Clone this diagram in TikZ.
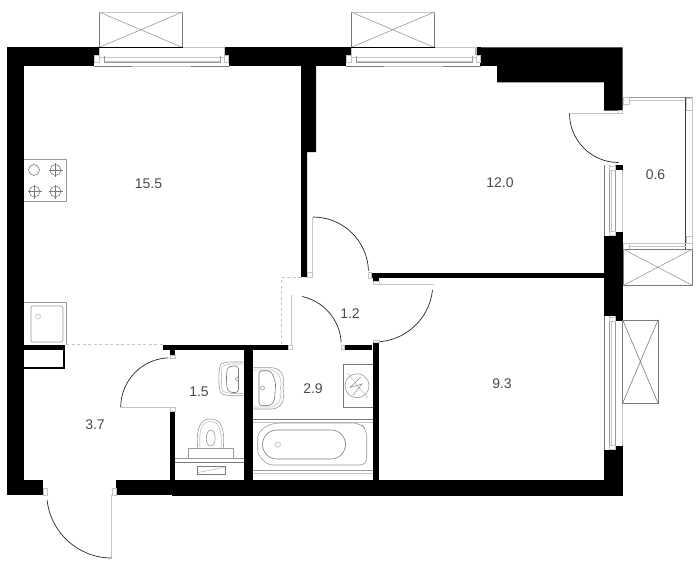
\documentclass[tikz,border=0pt]{standalone}
\usepackage{fontspec}
\setmainfont{Liberation Sans}
\definecolor{labelc}{HTML}{4A4A4A}
\definecolor{fine}{HTML}{9A9A9A}
\definecolor{pale}{HTML}{C4C4C4}
\definecolor{mid}{HTML}{7A7A7A}
\tikzset{
  wall/.style={fill=black,draw=none},
  thin line/.style={draw=fine,line width=0.6pt},
  pale line/.style={draw=pale,line width=0.7pt},
  dark line/.style={draw=mid,line width=0.6pt},
  swing/.style={draw=black!85,line width=0.7pt},
  leaf/.style={draw=pale,line width=1pt},
  split/.style={draw=pale,line width=0.7pt,dash pattern=on 3pt off 2.5pt},
  room/.style={font=\fontsize{14}{14}\selectfont,text=labelc,inner sep=0pt},
  jamb/.style={draw=pale,fill=white,line width=0.7pt},
  acbox/.style={draw=mid,line width=0.7pt},
  acx/.style={draw=fine,line width=0.6pt},
}
\begin{document}
\begin{tikzpicture}[x=1pt,y=-1pt]
\useasboundingbox (0,0) rectangle (700,567);
% ---- masonry
\fill[wall] (7,47.5) rectangle (94,66);
\fill[wall] (7,47.5) rectangle (23.7,495);
\fill[wall] (7,479.5) rectangle (43,495);
\fill[wall] (116,479.5) rectangle (172,495);
\fill[wall] (171.5,480) rectangle (622.7,496);
\fill[wall] (229,47.5) rectangle (346,66);
\fill[wall] (475.7,47.5) -- (622.7,47.5) -- (622.7,110.5) -- (604,110.5) -- (604,82.5) -- (497,82.5) -- (497,66) -- (480,66) -- (480,55) -- (475.7,55) -- cycle;
\fill[wall] (604,236) rectangle (622.7,316);
\fill[wall] (604,450) rectangle (622.7,496);
\fill[wall] (301,66) -- (316,66) -- (316,152) -- (307,152) -- (307,277) -- (301,277) -- cycle;
\fill[wall] (371.5,272.5) rectangle (604,278.3);
\fill[wall] (373,278) rectangle (379,281);
\fill[wall] (163,345) rectangle (288.5,349.5);
\fill[wall] (170,349) rectangle (175,355);
\fill[wall] (170,411) rectangle (175,480);
\fill[wall] (244.3,349) rectangle (253,480);
\fill[wall] (343,345) rectangle (372,349.5);
\fill[wall] (372.5,342.5) rectangle (378.7,480);
\fill[wall] (23.7,344.5) rectangle (65,349.5);
\fill[wall] (23.7,366.5) rectangle (65,369);
\fill[wall] (63,349) rectangle (65,369);
% ---- top windows
\foreach \ox in {0,252}{
  \begin{scope}[xshift=\ox pt]
    \fill[wall] (94,47.5) rectangle (99,55);
    \fill[wall] (224,47.5) rectangle (229,55);
    \draw[pale line] (94,66) -- (229,66);
    \draw[dark line] (94,66) -- (132,66);
    \draw[dark line] (191,66) -- (229,66);
    \draw[pale line] (99,47.5) -- (224,47.5) -- (224,56);
    \draw[pale line] (99,47.5) -- (99,56);
    \draw[pale line] (99,57) -- (224,57);
    \draw[pale line] (104,61) -- (220,61);
    \draw[thin line] (104,56.5) -- (104,62) -- (220,62) -- (220,56.5);
    \draw[jamb] (94.5,55.5) rectangle (99,62);
    \draw[jamb] (224,55.5) rectangle (228.5,62);
    \draw[acbox] (99,47.5) -- (99,12);
    \draw[acbox] (182.5,47.5) -- (182.5,12);
    \draw[pale line] (99,12) -- (182.5,12);
    \draw[acx] (99,12) -- (182.5,47.5) (182.5,12) -- (99,47.5);
    \draw[draw=black,line width=0.9pt] (99,47.5) -- (182.5,47.5);
  \end{scope}
}
% ---- right windows
\foreach \ya/\yb in {165/236,316/450}{
  \draw[mid,line width=0.7pt] (604.4,\ya) -- (604.4,\yb);
  \draw[pale line] (622.5,\ya) -- (622.5,\yb);
  \draw[thin line] (609,\ya) -- (609,\yb);
  \draw[pale line] (611,\ya+5) -- (611,\yb-5);
  \draw[thin line] (615.5,\ya) -- (615.5,\yb);
  \fill[wall] (616,\ya) rectangle (622.7,\ya+4.5);
  \fill[wall] (616,\yb-4.5) rectangle (622.7,\yb);
  \draw[jamb] (609,\ya+1) rectangle (615.5,\ya+5);
  \draw[jamb] (609,\yb-5) rectangle (615.5,\yb-1);
}
% ---- balcony
\draw[thin line] (623,97) -- (692.7,97);
\draw[pale line] (623,100.5) -- (686,100.5);
\draw[jamb] (623,97) rectangle (629,104);
\draw[draw=black!75,line width=0.7pt] (685.5,97) -- (685.5,249);
\draw[pale line] (692.3,97) -- (692.3,249);
\draw[jamb] (686,98) rectangle (692.3,110);
\draw[jamb] (686,236) rectangle (692.3,243);
\draw[pale line] (623,243) -- (692.7,243);
\draw[pale line] (629,246) -- (686,246);
\draw[jamb] (623,243) rectangle (629,249);
\draw[dark line] (623,249) -- (692.7,249);
\draw[acbox] (623,249) -- (623,285.5) -- (692.7,285.5) -- (692.7,249);
\draw[acx] (623,249) -- (692.7,285.5) (692.7,249) -- (623,285.5);
% ---- right AC unit
\draw[acbox] (622.7,320) rectangle (658,403);
\draw[dark line] (622.7,320) -- (658,403) (658,320) -- (622.7,403);
% ---- split lines of the kitchen
\draw[split] (66,344) -- (163,344);
\draw[split] (301,277.5) -- (281.5,277.5) -- (281.5,344);
% ---- doors
\draw[leaf] (111.7,495) -- (111.7,558);
\draw[swing] (111.7,558) arc[start angle=90,end angle=174,radius=65];
\draw[jamb] (43,488) rectangle (47,495);
\draw[jamb] (112,488) rectangle (116,495);
\draw[leaf] (170,407.3) -- (120.7,407.3);
\draw[swing] (120.7,407.3) arc[start angle=180,end angle=268,radius=49.5];
\draw[jamb] (170,355) rectangle (175,358);
\draw[jamb] (170,407) rectangle (175,411);
\draw[leaf] (312.7,272) -- (312.7,217);
\draw[swing] (313,217) arc[start angle=-90,end angle=-2,radius=55.5];
\draw[jamb] (307.5,272) rectangle (312.5,277);
\draw[jamb] (368,272) rectangle (371.5,278);
\draw[leaf] (291.7,345) -- (291.7,295);
\draw[swing] (302,296.5) arc[start angle=-78,end angle=-3,radius=49.5];
\draw[jamb] (288.5,345) rectangle (292,349.5);
\draw[jamb] (341,345) rectangle (344,349.5);
\draw[leaf] (374,284.3) -- (434,284.3);
\draw[swing] (432.5,290) arc[start angle=6,end angle=88,radius=58];
\draw[jamb] (373,281) rectangle (379,284.3);
\draw[jamb] (373,340) rectangle (379,342.7);
\draw[leaf] (622,113.5) -- (569.5,113.5);
\draw[swing] (569.5,113.5) arc[start angle=180,end angle=90,radius=49];
\draw[jamb] (618,110.5) rectangle (622.7,113.5);
% ---- kitchen
\draw[thin line] (23.7,159) -- (66,159) -- (66,201) -- (23.7,201);
\draw[dark line] (34,170) circle[radius=5.5];
\foreach \cx/\cy in {55.5/170,34.5/191.5,55.5/191.5}{
  \draw[dark line] (\cx,\cy) circle[radius=5.5];
  \draw[dark line] (\cx-7,\cy) -- (\cx+7,\cy) (\cx,\cy-7) -- (\cx,\cy+7);
}
\draw[thin line] (23.7,302) -- (66,302) -- (66,344);
\draw[thin line,rounded corners=2pt] (31,306) rectangle (63,342);
\draw[pale line] (38,316.5) circle[radius=2.5];
% ---- WC
\draw[thin line,rounded corners=5pt] (243.3,362) -- (226,362) .. controls (218,365) and (218,392) .. (226,395.7) -- (243.3,395.7);
\draw[pale line,rounded corners=5pt] (243.3,364) -- (227,364) .. controls (221,367) and (221,390) .. (227,393.5) -- (243.3,393.5);
\draw[dark line,rounded corners=3pt] (238.5,366) -- (230,366) .. controls (226,370) and (226,388) .. (230,392.5) -- (238.5,392.5) -- cycle;
\draw[fine,line width=0.6pt] (237,379) circle[radius=1.7];
\draw[thin line] (197.7,448) .. controls (196,428) and (200,419) .. (210.5,419) .. controls (221,419) and (225,428) .. (223.3,448);
\draw[pale line] (200,448) .. controls (198.5,430) and (202,421.5) .. (210.5,421.5) .. controls (219,421.5) and (222.5,430) .. (221,448);
\draw[thin line] (210.7,438) ellipse[x radius=4.5,y radius=8];
\draw[thin line] (188.5,458) -- (188.5,448) -- (233.5,448) -- (233.5,458);
\draw[thin line] (175,458) -- (244,458);
\draw[dark line] (175,462) -- (244,462);
\draw[dark line] (197,466.5) rectangle (225,474);
\draw[pale line] (198,472.5) -- (224,467.5);
% ---- bathroom
\draw[thin line] (253,367.7) -- (272,367.7) .. controls (283,369) and (285,378) .. (283,388) .. controls (285,398) and (283,408) .. (272,409) -- (253,409);
\draw[pale line] (253,370) -- (271,370) .. controls (280,372) and (282,380) .. (280.5,388) .. controls (282,397) and (280,405) .. (271,407) -- (253,407);
\draw[dark line,rounded corners=3pt] (259,370.7) -- (270,370.7) .. controls (274,376) and (276,384) .. (275,390) .. controls (275,397) and (274,402) .. (270,405.7) -- (259,405.7) -- cycle;
\draw[fine,line width=0.6pt] (262.5,388) circle[radius=2];
\draw[dark line] (253,419.5) -- (372.5,419.5);
\draw[pale line] (253,422.7) -- (372.5,422.7);
\draw[thin line,rounded corners=7pt] (280,423) -- (360,423) -- (366.7,430) -- (366.7,465) -- (280,465) .. controls (265,465) and (257.7,455) .. (257.7,444) .. controls (257.7,433) and (265,423) .. (280,423);
\draw[dark line] (277,430) -- (331,430) arc[start angle=-90,end angle=90,radius=14.5] -- (277,459) arc[start angle=90,end angle=270,radius=14.5];
\draw[pale line] (277.8,444.5) circle[radius=2.7];
\draw[thin line] (253,470) -- (372.5,470);
\draw[pale line] (253,473) -- (372.5,473);
\draw[dark line] (343,364) -- (372.5,364) (343,407.3) -- (372.5,407.3);
\draw[dark line] (343.3,364) -- (343.3,407.3);
\draw[thin line] (357,385.7) circle[radius=12];
\draw[pale line] (347.5,373) -- (367.5,398);
\draw[thin line] (361,377) -- (350,387.5) -- (362,384) -- (353,395);
% ---- labels
\node[room] (r155) at (148.5,183.5) {15.5};
\node[room] (r120) at (500,183) {12.0};
\node[room] (r06) at (655.5,175) {0.6};
\node[room] (r12) at (350,313.5) {1.2};
\node[room] (r15) at (199,391.5) {1.5};
\node[room] (r29) at (313,389) {2.9};
\node[room] (r37) at (95,424.5) {3.7};
\node[room] (r93) at (502,384) {9.3};
\end{tikzpicture}
\end{document}
